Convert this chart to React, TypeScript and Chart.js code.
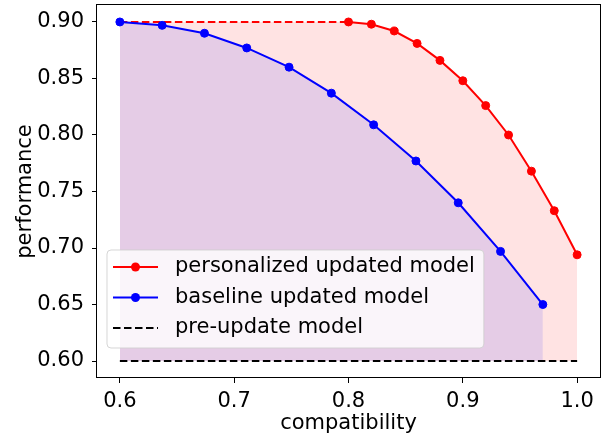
import React, { useEffect, useRef } from 'react';
import { Chart, registerables } from 'chart.js';

Chart.register(...registerables);

// ---- data ----
const personalizedX = [0.8, 0.82, 0.84, 0.86, 0.88, 0.9, 0.92, 0.94, 0.96, 0.98, 1.0];
const personalizedY = [0.9, 0.898, 0.892, 0.881, 0.866, 0.848, 0.826, 0.8, 0.768, 0.733, 0.694];
const plateauX = [0.6, 0.8];
const plateauY = [0.9, 0.9];
const baselineX = [0.6, 0.637, 0.674, 0.711, 0.748, 0.785, 0.822, 0.859, 0.896, 0.933, 0.97];
const baselineY = [0.9, 0.897, 0.89, 0.877, 0.86, 0.837, 0.809, 0.777, 0.74, 0.697, 0.65];
const preUpdateX = [0.6, 1.0];
const preUpdateY = [0.6, 0.6];
const xTicks = [0.6, 0.7, 0.8, 0.9, 1.0];
const xTickLabels = ['0.6', '0.7', '0.8', '0.9', '1.0'];
const yTicks = [0.6, 0.65, 0.7, 0.75, 0.8, 0.85, 0.9];
const yTickLabels = ['0.60', '0.65', '0.70', '0.75', '0.80', '0.85', '0.90'];
const fillBase = 0.6;

const pts = (xs: number[], ys: number[]) => xs.map((x, i) => ({ x, y: ys[i] }));

const FONT = "'DejaVu Sans', sans-serif";
const FS = 21;

const framePlugin = {
  id: 'mplFrame',
  afterDatasetsDraw(chart: any) {
    const { ctx, chartArea: a } = chart;
    ctx.save();
    ctx.strokeStyle = '#000';
    ctx.lineWidth = 1;
    ctx.strokeRect(a.left - 0.5, a.top - 0.5, a.right - a.left + 1, a.bottom - a.top);
    ctx.restore();
  },
};

const legendPlugin = {
  id: 'mplLegend',
  afterDraw(chart: any) {
    const { ctx, chartArea: a } = chart;
    const items = chart.data.datasets
      .filter((d: any) => d.showInLegend)
      .sort((p: any, q: any) => p.legendOrder - q.legendOrder);
    ctx.save();
    ctx.font = `${FS}px ${FONT}`;
    const maxW = Math.max(...items.map((d: any) => ctx.measureText(d.label).width));
    const x0 = a.left + 10;
    const rowH = 30.5;
    const h = 98;
    const y0 = a.bottom - 30 - h;
    const w = 68 + maxW + 9;
    const r = 4;
    ctx.beginPath();
    ctx.moveTo(x0 + r, y0);
    ctx.lineTo(x0 + w - r, y0);
    ctx.quadraticCurveTo(x0 + w, y0, x0 + w, y0 + r);
    ctx.lineTo(x0 + w, y0 + h - r);
    ctx.quadraticCurveTo(x0 + w, y0 + h, x0 + w - r, y0 + h);
    ctx.lineTo(x0 + r, y0 + h);
    ctx.quadraticCurveTo(x0, y0 + h, x0, y0 + h - r);
    ctx.lineTo(x0, y0 + r);
    ctx.quadraticCurveTo(x0, y0, x0 + r, y0);
    ctx.closePath();
    ctx.fillStyle = 'rgba(255,255,255,0.8)';
    ctx.fill();
    ctx.strokeStyle = 'rgba(204,204,204,0.8)';
    ctx.lineWidth = 1;
    ctx.stroke();
    items.forEach((d: any, i: number) => {
      const cy = y0 + 17 + i * rowH;
      ctx.beginPath();
      ctx.setLineDash(d.borderDash || []);
      ctx.strokeStyle = d.borderColor;
      ctx.lineWidth = d.borderWidth;
      ctx.moveTo(x0 + 6, cy);
      ctx.lineTo(x0 + 51, cy);
      ctx.stroke();
      ctx.setLineDash([]);
      if (d.pointRadius > 0) {
        ctx.beginPath();
        ctx.fillStyle = d.pointBackgroundColor;
        ctx.arc(x0 + 28.5, cy, d.pointRadius + 0.5, 0, Math.PI * 2);
        ctx.fill();
      }
      ctx.fillStyle = '#000';
      ctx.textBaseline = 'middle';
      ctx.textAlign = 'left';
      ctx.fillText(d.label, x0 + 68, cy);
    });
    ctx.restore();
  },
};

const zeroPad = (s: any) => {
  s.paddingTop = 0;
  s.paddingBottom = 0;
  s.paddingLeft = 0;
  s.paddingRight = 0;
};

export default function App() {
  const ref = useRef<HTMLCanvasElement>(null);
  useEffect(() => {
    if (!ref.current) return;
    const chart = new Chart(ref.current, {
      type: 'line',
      data: {
        datasets: [
          {
            label: 'baseline updated model',
            data: pts(baselineX, baselineY),
            borderColor: '#0000ff',
            backgroundColor: '#0000ff',
            pointBackgroundColor: '#0000ff',
            pointBorderColor: '#0000ff',
            borderWidth: 2,
            pointRadius: 4,
            pointBorderWidth: 1,
            fill: false,
            showInLegend: true,
            legendOrder: 1,
          } as any,
          {
            label: 'personalized updated model',
            data: pts(personalizedX, personalizedY),
            borderColor: '#ff0000',
            backgroundColor: '#ff0000',
            pointBackgroundColor: '#ff0000',
            pointBorderColor: '#ff0000',
            borderWidth: 2,
            pointRadius: 4,
            pointBorderWidth: 1,
            fill: false,
            showInLegend: true,
            legendOrder: 0,
          } as any,
          {
            label: 'personalized plateau',
            data: pts(plateauX, plateauY),
            borderColor: '#ff0000',
            borderWidth: 2,
            borderDash: [7.5, 3.5],
            pointRadius: 0,
            fill: false,
          } as any,
          {
            label: 'pre-update model',
            data: pts(preUpdateX, preUpdateY),
            borderColor: '#000000',
            borderWidth: 2,
            borderDash: [7.5, 3.5],
            pointRadius: 0,
            fill: false,
            showInLegend: true,
            legendOrder: 2,
          } as any,
          {
            label: 'baseline area',
            data: pts(baselineX, baselineY),
            borderWidth: 0,
            borderColor: 'rgba(0,0,0,0)',
            backgroundColor: 'rgba(0,0,255,0.1)',
            pointRadius: 0,
            fill: { value: fillBase },
          } as any,
          {
            label: 'personalized area',
            data: pts([...plateauX.slice(0, 1), ...personalizedX], [...plateauY.slice(0, 1), ...personalizedY]),
            borderWidth: 0,
            borderColor: 'rgba(0,0,0,0)',
            backgroundColor: 'rgba(255,0,0,0.11)',
            pointRadius: 0,
            fill: { value: fillBase },
          } as any,
        ],
      },
      options: {
        responsive: false,
        animation: false,
        layout: { padding: { top: 3, right: 8, left: 0, bottom: 0 } },
        plugins: {
          legend: { display: false },
          tooltip: { enabled: false },
        },
        scales: {
          x: {
            type: 'linear',
            min: 0.58,
            max: 1.02,
            afterBuildTicks: (s: any) => {
              s.ticks = xTicks.map((value) => ({ value }));
            },
            afterFit: (s: any) => {
              s.height = 60;
              zeroPad(s);
            },
            ticks: {
              color: '#000',
              font: { family: FONT, size: FS },
              padding: 6,
              maxRotation: 0,
              autoSkip: false,
              callback: (_v: any, i: number) => xTickLabels[i],
            },
            grid: { display: true, drawOnChartArea: false, drawTicks: true, tickLength: 5, color: '#000', lineWidth: 1 },
            border: { display: false },
            title: {
              display: true,
              text: 'compatibility',
              color: '#000',
              font: { family: FONT, size: FS },
              padding: { top: 0, bottom: 2 },
            },
          },
          y: {
            type: 'linear',
            min: 0.585,
            max: 0.915,
            afterBuildTicks: (s: any) => {
              s.ticks = yTicks.map((value) => ({ value }));
            },
            afterFit: (s: any) => {
              s.width = 97;
              zeroPad(s);
            },
            ticks: {
              color: '#000',
              font: { family: FONT, size: FS },
              padding: 8,
              autoSkip: false,
              callback: (_v: any, i: number) => yTickLabels[i],
            },
            grid: { display: true, drawOnChartArea: false, drawTicks: true, tickLength: 5, color: '#000', lineWidth: 1 },
            border: { display: false },
            title: {
              display: true,
              text: 'performance',
              color: '#000',
              font: { family: FONT, size: FS },
              padding: { top: 12.5, bottom: 0 },
            },
          },
        },
      },
      plugins: [framePlugin, legendPlugin],
    } as any);
    return () => chart.destroy();
  }, []);
  return (
    <canvas
      ref={ref}
      width={608}
      height={438}
      style={{ position: 'absolute', left: 0, top: 0, display: 'block' }}
    />
  );
}
